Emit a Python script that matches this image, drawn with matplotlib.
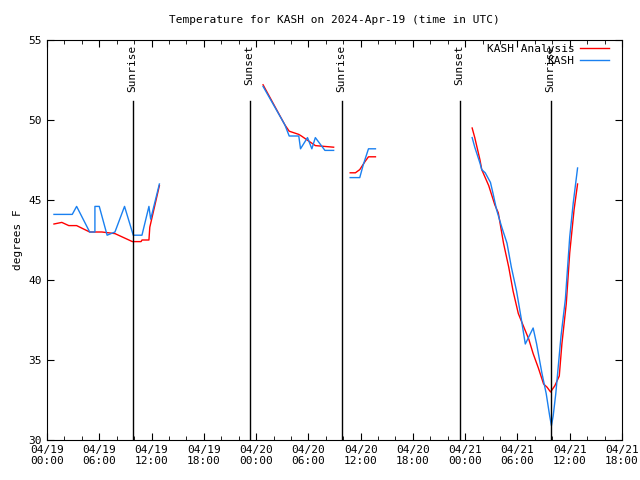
import matplotlib
matplotlib.use("Agg")
import matplotlib.pyplot as plt
from matplotlib.ticker import MultipleLocator

# hours since 2024-04-19 00:00 UTC
analysis_hours = [
    [0.8, 1.7, 2.5, 3.4, 4.9, 6.3, 7.8, 9.8, 10.8, 10.9, 11.7, 11.8, 12.9],
    [24.8, 25.6, 26.5, 27.3, 27.8, 28.9, 29.2, 30.0, 30.8, 32.9],
    [34.8, 35.4, 35.9, 36.5, 36.9, 37.7],
    [48.8, 49.1, 49.7, 49.9, 50.7, 51.4, 51.8, 52.4, 53.0, 53.5, 54.1, 54.7,
     55.3, 55.8, 56.4, 57.0, 57.4, 57.8, 58.3, 58.8, 59.1, 59.6, 60.0, 60.5, 60.9],
]
analysis_temp = [
    [43.5, 43.6, 43.4, 43.4, 43.0, 43.0, 42.9, 42.4, 42.4, 42.5, 42.5, 43.3, 45.9],
    [52.2, 51.4, 50.5, 49.7, 49.3, 49.1, 49.0, 48.7, 48.4, 48.3],
    [46.7, 46.7, 46.9, 47.4, 47.7, 47.7],
    [49.5, 48.9, 47.5, 46.9, 45.9, 44.7, 44.2, 42.3, 40.8, 39.3, 37.9, 37.1,
     36.3, 35.4, 34.5, 33.5, 33.3, 33.0, 33.4, 34.0, 36.0, 38.5, 41.7, 44.4, 46.0],
]

obs_hours = [
    [0.8, 2.9, 3.4, 4.9, 5.5, 5.5, 6.0, 6.9, 7.8, 8.9, 9.9, 10.9, 11.7, 11.9, 12.9],
    [24.8, 27.3, 27.8, 28.9, 29.1, 29.9, 30.4, 30.8, 31.9, 32.9],
    [34.8, 35.9, 36.3, 36.9, 37.7],
    [48.8, 49.1, 49.7, 49.9, 50.3, 50.9, 51.2, 51.6, 52.2, 52.8, 53.3, 53.9,
     54.4, 54.9, 55.8, 56.2, 56.8, 57.3, 57.7, 57.9, 58.1, 58.4, 58.7, 59.0,
     59.5, 60.0, 60.4, 60.9],
]
obs_temp = [
    [44.1, 44.1, 44.6, 43.0, 43.0, 44.6, 44.6, 42.8, 43.0, 44.6, 42.8, 42.8, 44.6, 43.8, 46.0],
    [52.1, 49.7, 49.0, 49.0, 48.2, 48.9, 48.2, 48.9, 48.1, 48.1],
    [46.4, 46.4, 47.2, 48.2, 48.2],
    [48.9, 48.3, 47.3, 46.9, 46.7, 46.1, 45.4, 44.4, 43.3, 42.3, 40.8, 39.3,
     37.7, 36.0, 37.0, 36.0, 34.2, 32.9, 31.5, 30.9, 31.5, 32.9, 34.7, 36.5,
     38.8, 42.7, 44.8, 47.0],
]

sun_events = [9.9, 23.3, 33.9, 47.4, 57.9]
sun_labels = ["Sunrise", "Sunset", "Sunrise", "Sunset", "Sunrise"]

tick_hours = list(range(0, 67, 6))
tick_labels = ["04/19\n00:00", "04/19\n06:00", "04/19\n12:00", "04/19\n18:00",
               "04/20\n00:00", "04/20\n06:00", "04/20\n12:00", "04/20\n18:00",
               "04/21\n00:00", "04/21\n06:00", "04/21\n12:00", "04/21\n18:00"]

plt.rcParams["font.family"] = ["DejaVu Sans Mono", "DejaVu Sans"]
plt.rcParams["font.size"] = 8

fig = plt.figure(figsize=(6.4, 4.8), dpi=100)
ax = fig.add_axes([47 / 640, 40 / 480, 575 / 640, 400 / 480])

for i, (h, t) in enumerate(zip(analysis_hours, analysis_temp)):
    ax.plot(h, t, color="#ff0000", lw=1.0, label="KASH Analysis" if i == 0 else None)
for i, (h, t) in enumerate(zip(obs_hours, obs_temp)):
    ax.plot(h, t, color="#1a80f0", lw=1.0, label="KASH" if i == 0 else None)

for x, lab in zip(sun_events, sun_labels):
    ax.plot([x, x], [30, 51.2], color="black", lw=1.0)
    ax.text(x - 0.1, 54.7, lab, rotation=90, ha="center", va="top", fontsize=8)

ax.set_xlim(0, 66)
ax.set_ylim(30, 55)
ax.set_xticks(tick_hours)
ax.set_xticklabels(tick_labels)
ax.xaxis.set_minor_locator(MultipleLocator(2))
ax.yaxis.set_major_locator(MultipleLocator(5))
ax.tick_params(which="both", direction="in", top=True, right=True)
ax.tick_params(which="major", length=5)
ax.tick_params(which="minor", length=3)
ax.set_ylabel("degrees F")
ax.set_title("Temperature for KASH on 2024-Apr-19 (time in UTC)", fontsize=8, pad=12)

ax.legend(loc="upper right", bbox_to_anchor=(0.977, 0.99), frameon=False,
          markerfirst=False, handlelength=2.6, borderaxespad=0, borderpad=0,
          labelspacing=0.2, handletextpad=0.5)

fig.savefig("out.png", dpi=100)
